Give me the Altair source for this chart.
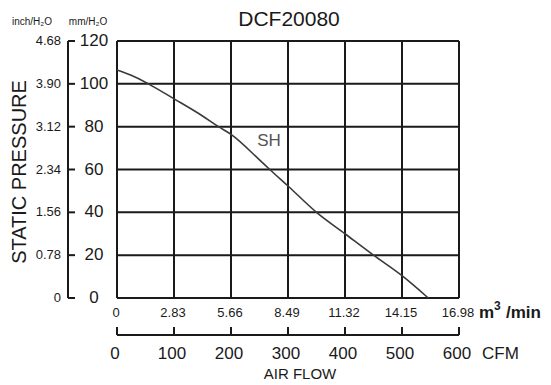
import altair as alt
import pandas as pd

# ---- data ----
cfm = [0, 25, 55, 100, 150, 178, 200, 250, 268, 300, 350, 400, 450, 500, 546]
mm_h2o = [106.5, 104, 100, 93, 85, 80, 76.4, 64.5, 60, 52.3, 40, 30, 20, 10.4, 0]

mm_ticks = [0, 20, 40, 60, 80, 100, 120]
inch_labels = ["0", "0.78", "1.56", "2.34", "3.12", "3.90", "4.68"]
cfm_ticks = [0, 100, 200, 300, 400, 500, 600]
m3_labels = ["0", "2.83", "5.66", "8.49", "11.32", "14.15", "16.98"]

W, H = 342, 257
FONT = "Liberation Sans"
INK = "#1a1a1a"

curve_df = pd.DataFrame({"cfm": cfm, "mm": mm_h2o})
ydf = pd.DataFrame({"mm": mm_ticks, "inch": inch_labels, "lab": [str(v) for v in mm_ticks]})
xdf = pd.DataFrame({"cfm": cfm_ticks, "m3": m3_labels, "lab": [str(v) for v in cfm_ticks]})
yspan = pd.DataFrame({"a": [0], "b": [120]})
xspan = pd.DataFrame({"a": [0], "b": [600]})

xs = alt.Scale(domain=[0, 600], nice=False, zero=False)
ys = alt.Scale(domain=[0, 120], nice=False, zero=False)

X = lambda f: alt.X(f, type="quantitative", scale=xs, axis=None)
Y = lambda f: alt.Y(f, type="quantitative", scale=ys, axis=None)

# grid (including frame)
vgrid = alt.Chart(xdf).mark_rule(color=INK, strokeWidth=2).encode(
    x=X("cfm"), y=alt.value(0), y2=alt.value(H))
hgrid = alt.Chart(ydf).mark_rule(color=INK, strokeWidth=2).encode(
    y=Y("mm"), x=alt.value(0), x2=alt.value(W))

curve = alt.Chart(curve_df).mark_line(color="#3a3a3a", strokeWidth=1.6, interpolate="monotone").encode(
    x=X("cfm"), y=Y("mm"))

sh = alt.Chart(yspan).mark_text(text="SH", font=FONT, fontSize=17, fontWeight="normal",
                                color="#555555").encode(
    x=alt.value(152), y=alt.value(100))

# left mm axis
y_line = alt.Chart(yspan).mark_rule(color=INK, strokeWidth=2).encode(
    x=alt.value(-49), y=Y("a"), y2="b")
y_ticks = alt.Chart(ydf).mark_rule(color=INK, strokeWidth=2).encode(
    y=Y("mm"), x=alt.value(-49), x2=alt.value(-42))
y_labels = alt.Chart(ydf).mark_text(font=FONT, fontSize=17, align="center", baseline="middle", color=INK).encode(
    y=Y("mm"), x=alt.value(-23), text="lab:N")
inch_text = alt.Chart(ydf).mark_text(font=FONT, fontSize=13, align="right", baseline="middle", color=INK).encode(
    y=Y("mm"), x=alt.value(-56), text="inch:N")

# bottom axes
m3_text = alt.Chart(xdf).mark_text(font=FONT, fontSize=13, align="center", baseline="middle", dx=-1, color=INK).encode(
    x=X("cfm"), y=alt.value(272), text="m3:N")
x_line = alt.Chart(xspan).mark_rule(color=INK, strokeWidth=2).encode(
    x=X("a"), x2="b", y=alt.value(294))
x_ticks = alt.Chart(xdf).mark_rule(color=INK, strokeWidth=2).encode(
    x=X("cfm"), y=alt.value(286), y2=alt.value(294))
x_labels = alt.Chart(xdf).mark_text(font=FONT, fontSize=17, align="center", baseline="middle", dx=-2, color=INK).encode(
    x=X("cfm"), y=alt.value(313), text="lab:N")

def label(txt, x, y, size, align="center", baseline="middle", weight="normal", angle=0):
    kw = dict(text=txt, font=FONT, fontSize=size, align=align, baseline=baseline,
              fontWeight=weight, color=INK)
    if angle:
        kw["angle"] = angle
    return alt.Chart(yspan).mark_text(**kw).encode(x=alt.value(x), y=alt.value(y))

texts = [
    label("DCF20080", 172, -21, 21),
    label("inch/H₂O", -85, -19, 10),
    label("mm/H₂O", -29, -19, 10),
    label("STATIC PRESSURE", -97, 131, 20, angle=270),
    label("m", 362, 272, 17, align="left", weight="bold"),
    label("3", 377, 265, 12, align="left", weight="bold"),
    label("/min", 389, 272, 17, align="left", weight="bold"),
    label("CFM", 365, 313, 17, align="left"),
    label("AIR FLOW", 183, 341, 15, baseline="bottom"),
]

chart = alt.layer(
    vgrid, hgrid, curve, sh,
    y_line, y_ticks, y_labels, inch_text,
    m3_text, x_line, x_ticks, x_labels,
    *texts,
).properties(
    width=W, height=H,
    autosize=alt.AutoSizeParams(type="none"),
    padding={"left": 109, "top": 33, "right": 84, "bottom": 86},
).configure_view(stroke=None)

chart.save("out.html", embed_options={"renderer": "svg", "actions": False})
